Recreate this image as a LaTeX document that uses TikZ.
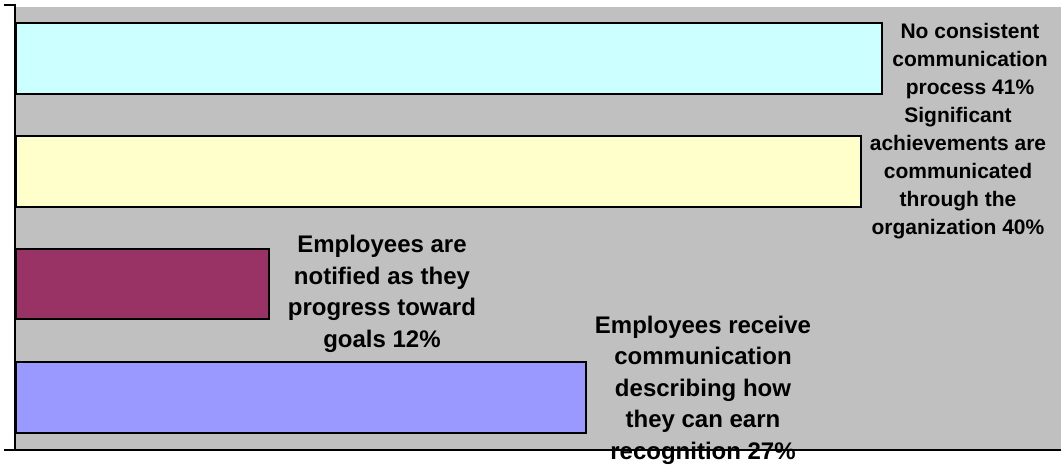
\documentclass[tikz,border=0pt]{standalone}
\usepackage{fontspec}
\setmainfont{Liberation Sans}
\definecolor{plotgrey}{HTML}{C0C0C0}
\definecolor{barcyan}{HTML}{CCFFFF}
\definecolor{baryellow}{HTML}{FFFFCC}
\definecolor{barmaroon}{HTML}{993366}
\definecolor{barblue}{HTML}{9999FF}
\tikzset{
  bar/.style={draw=black, line width=1.5pt},
  axisline/.style={draw=black, line width=2pt},
  lblsmall/.style={align=center, inner sep=0pt, font=\fontsize{21}{28}\selectfont\bfseries},
  lblbig/.style={align=center, inner sep=0pt, font=\fontsize{24}{31.5}\selectfont\bfseries},
}
\begin{document}
\begin{tikzpicture}[x=1pt,y=-1pt]
\useasboundingbox (0,0) rectangle (1061,464);
\fill[plotgrey] (16,7) rectangle (1061,450);
\draw[bar, fill=barcyan] (16,23) rectangle (882,94);
\draw[bar, fill=baryellow] (16,136) rectangle (861,207);
\draw[bar, fill=barmaroon] (16,249) rectangle (269,319);
\draw[bar, fill=barblue] (16,362) rectangle (586,433);
\coordinate (topTick) at (4,5);
\coordinate (axTop) at (15,5);
\coordinate (axBot) at (15,451);
\coordinate (botTick) at (4,450);
\coordinate (axRight) at (1061,450);
\node[lblsmall] (l1) at (970,61) {No consistent\\communication\\process 41\%};
\node[lblsmall] (l2) at (958,173) {Significant\\achievements are\\communicated\\through the\\organization 40\%};
\node[lblbig] (l3) at (382,294) {Employees are\\notified as they\\progress toward\\goals 12\%};
\node[lblbig] (l4) at (703,390) {Employees receive\\communication\\describing how\\they can earn\\recognition 27\%};
\draw[axisline] (topTick) -- (axTop) -- (axBot);
\draw[axisline] (botTick) -- (axRight);
\end{tikzpicture}
\end{document}
